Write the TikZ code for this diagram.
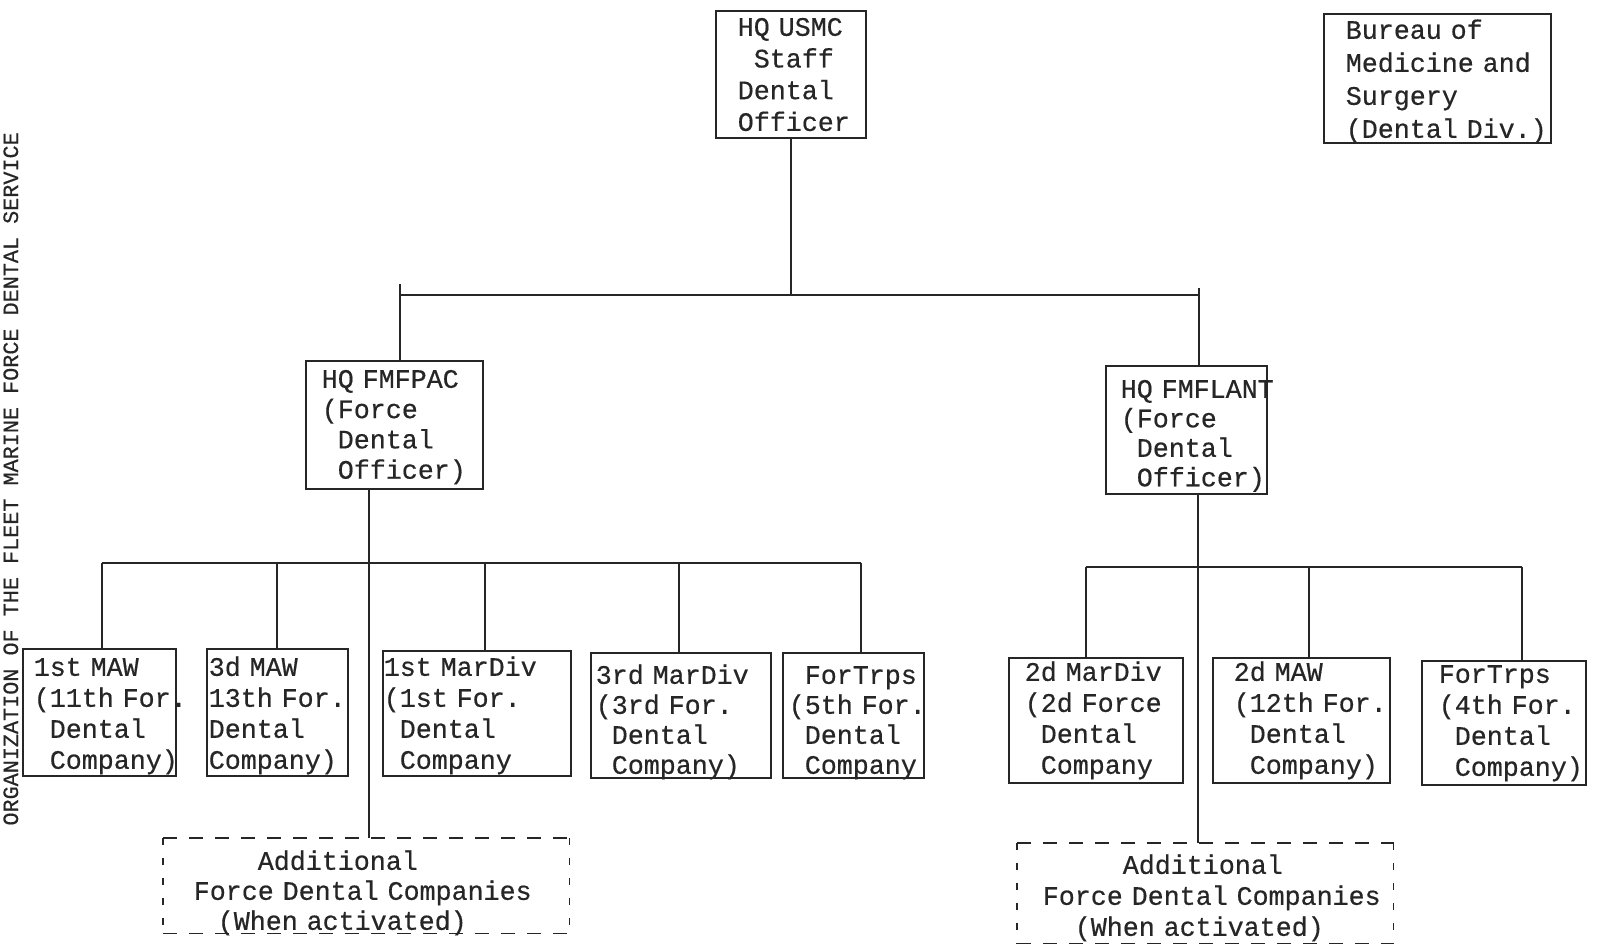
\documentclass[tikz,border=0pt]{standalone}
\usepackage{fontspec}
\newfontfamily\boxfont[FakeBold=0.5]{Liberation Mono}
\definecolor{ink}{HTML}{262626}
\newcommand{\ci}[1][1]{\hspace*{#1\dimexpr 0.6em\relax}}
\newcommand{\monosp}{\fontdimen2\font=0.6em\relax\fontdimen3\font=0pt\relax\fontdimen4\font=0pt\relax}
\tikzset{
  orgbox/.style={draw=ink, line width=1.6pt, inner xsep=0pt, inner ysep=0pt,
    anchor=north west, align=left, text=ink},
  conn/.style={draw=ink, line width=1.6pt},
  hdash/.style={draw=ink, line width=1.6pt, dash pattern=on 14pt off 12pt},
  vdash/.style={draw=ink, line width=1.6pt, dash pattern=on 7pt off 13pt},
}
% [baselineskip]{name}{x1}{y1}{x2}{y2}{text x}{first baseline}{text}
\newcommand{\obox}[9][31]{%
  \pgfmathsetmacro\bxw{#5-#3}%
  \pgfmathsetmacro\bxtw{#5-#3-2*(#7-#3)}%
  \pgfmathsetmacro\bxth{#8-#4}%
  \pgfmathsetmacro\bxtd{#6-#8}%
  \node[orgbox, minimum width=\bxw pt, text width=\bxtw pt,
        text height=\bxth pt, text depth=\bxtd pt,
        font=\boxfont\fontsize{26.67}{#1}\selectfont\monosp] (#2) at (#3,#4) {#9};}
\begin{document}
\begin{tikzpicture}[x=1pt,y=-1pt]
\useasboundingbox (0,0) rectangle (1597,944);

% title at left edge
\node[rotate=90, anchor=base east, inner sep=0pt, text=ink,
      font=\boxfont\fontsize{21.8}{24}\selectfont\monosp] (title) at (18,132)
  {ORGANIZATION OF THE FLEET MARINE FORCE DENTAL SERVICE};

% top level
\obox[31.7]{usmc}{715}{10}{865}{137}{737}{35}{\mbox{HQ USMC}\\\mbox{\ci Staff}\\\mbox{Dental}\\\mbox{Officer}}
\obox[33]{bureau}{1323}{13}{1550}{142}{1345}{38}{\mbox{Bureau of}\\\mbox{Medicine and}\\\mbox{Surgery}\\\mbox{(Dental Div.)}}

% second level
\obox[30.3]{pac}{305}{360}{482}{488}{321}{387}{\mbox{HQ FMFPAC}\\\mbox{(Force}\\\mbox{\ci Dental}\\\mbox{\ci Officer)}}
\obox[29.5]{lant}{1105}{365}{1266}{493}{1120}{397}{\mbox{HQ FMFLANT}\\\mbox{(Force}\\\mbox{\ci Dental}\\\mbox{\ci Officer)}}

% Pacific units
\obox{maw1}{22}{648}{175}{775}{33}{675}{\mbox{1st MAW}\\\mbox{(11th For.}\\\mbox{\ci Dental}\\\mbox{\ci Company)}}
\obox{maw3}{206}{648}{347}{775}{208}{675}{\mbox{3d MAW}\\\mbox{13th For.}\\\mbox{Dental}\\\mbox{Company)}}
\obox{div1}{382}{650}{570}{775}{383}{675}{\mbox{1st MarDiv}\\\mbox{(1st For.}\\\mbox{\ci Dental}\\\mbox{\ci Company}}
\obox[30]{div3}{590}{652}{770}{777}{595}{683}{\mbox{3rd MarDiv}\\\mbox{(3rd For.}\\\mbox{\ci Dental}\\\mbox{\ci Company)}}
\obox[30]{ftp5}{782}{652}{923}{777}{788}{683}{\mbox{\ci ForTrps}\\\mbox{(5th For.}\\\mbox{\ci Dental}\\\mbox{\ci Company}}

% Atlantic units
\obox{div2}{1008}{657}{1182}{782}{1024}{680}{\mbox{2d MarDiv}\\\mbox{(2d Force}\\\mbox{\ci Dental}\\\mbox{\ci Company}}
\obox{maw2}{1212}{657}{1389}{782}{1233}{680}{\mbox{2d MAW}\\\mbox{(12th For.}\\\mbox{\ci Dental}\\\mbox{\ci Company)}}
\obox{ftp4}{1421}{660}{1585}{784}{1438}{682}{\mbox{ForTrps}\\\mbox{(4th For.}\\\mbox{\ci Dental}\\\mbox{\ci Company)}}

% additional (dashed) boxes
\node[orgbox, draw=none, minimum width=405pt, text width=345pt, text height=31pt, text depth=63pt,
      font=\boxfont\fontsize{26.67}{30}\selectfont\monosp] (addL) at (163,838)
  {\mbox{\ci[4]Additional}\\\mbox{Force Dental Companies}\\\mbox{\ci[1.5](When activated)}};
\node[orgbox, draw=none, minimum width=375pt, text width=325pt, text height=30pt, text depth=69pt,
      font=\boxfont\fontsize{26.67}{31}\selectfont\monosp] (addR) at (1017,843)
  {\mbox{\ci[5]Additional}\\\mbox{Force Dental Companies}\\\mbox{\ci[2](When activated)}};
\foreach \b in {addL, addR}{
  \draw[hdash] (\b.north west) -- (\b.north east);
  \draw[hdash] (\b.south west) -- (\b.south east);
  \draw[vdash] (\b.north west) -- (\b.south west);
  \draw[vdash] (\b.north east) -- (\b.south east);
}

% connectors: top level
\coordinate (tL) at (400,284);
\coordinate (tR) at (1199,288);
\coordinate (bus1) at (0,295);
\draw[conn] (usmc.south) -- (usmc.south |- bus1);
\draw[conn] (tL |- bus1) -- (tR |- bus1);
\draw[conn] (tL) -- (tL |- pac.north);
\draw[conn] (tR) -- (tR |- lant.north);

% Pacific branch
\coordinate (pL) at (369,0);
\draw[conn] (pac.south -| pL) -- (addL.north -| pL);
\foreach \x/\n [count=\i] in {102/maw1, 277/maw3, 485/div1, 679/div3, 861/ftp5}{
  \coordinate (dl\i) at (\x,563);
  \draw[conn] (dl\i) -- (dl\i |- \n.north);
}
\draw[conn] (dl1) -- (dl5);

% Atlantic branch
\coordinate (rL) at (1198,0);
\draw[conn] (lant.south -| rL) -- (addR.north -| rL);
\foreach \x/\n [count=\i] in {1086/div2, 1309/maw2, 1522/ftp4}{
  \coordinate (dr\i) at (\x,567);
  \draw[conn] (dr\i) -- (dr\i |- \n.north);
}
\draw[conn] (dr1) -- (dr3);
\end{tikzpicture}
\end{document}
